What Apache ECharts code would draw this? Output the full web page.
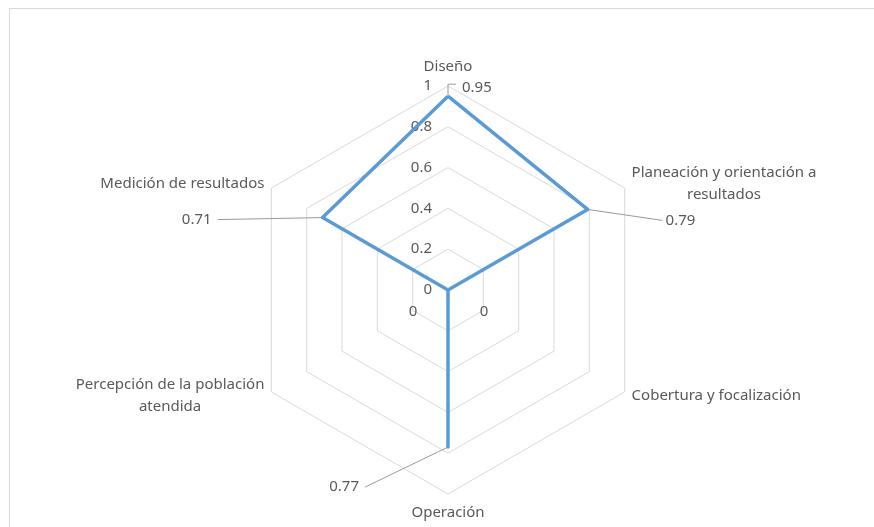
<!DOCTYPE html>
<html>
<head>
<meta charset="utf-8">
<script src="https://cdn.jsdelivr.net/npm/echarts@6/dist/echarts.min.js"></script>
<style>
    html, body { margin: 0; padding: 0; background: #fff; }
    #frame { position: absolute; left: 9px; top: 8px; width: 900px; height: 560px;
             border-left: 1px solid #d9d9d9; border-top: 1px solid #d9d9d9; }
    #chart { position: absolute; left: 0; top: 0; width: 874px; height: 527px; }
</style>
</head>
<body>
<div id="frame"></div>
<div id="chart"></div>
<script>
// categories in clockwise order, starting at the top
var categories = [
    'Diseño',
    'Planeación y orientación a\nresultados',
    'Cobertura y focalización',
    'Operación',
    'Percepción de la población\natendida',
    'Medición de resultados'
];
var values = [0.95, 0.79, 0, 0.77, 0, 0.71];
var tickLabels = ['0', '0.2', '0.4', '0.6', '0.8', '1'];

var FONT = '"Noto Sans", sans-serif';
var FS = 15;
var TEXT = '#595959';
var BLUE = '#5b9bd5';

// where each data label sits relative to its point (leader line + text)
var labelPlace = [
    { line: [[0, 0], [0, -12], [8, -12]], text: [14, -8], align: 'left' },
    { line: [[0, 0], [75, 11]], text: [78, 11], align: 'left' },
    { text: [36, 22], align: 'center' },
    { line: [[0, 0], [-83, 40]], text: [-89, 40], align: 'right' },
    { text: [-35, 22], align: 'center' },
    { line: [[0, 0], [-105, 2]], text: [-111, 2], align: 'right' }
];

// echarts radar runs counter-clockwise, so walk the list backwards after the first
var order = [0, 5, 4, 3, 2, 1];

var chart = echarts.init(document.getElementById('chart'));

var indicators = order.map(function(i, k) {
    var ind = { name: categories[i], min: 0, max: 1 };
    if (k === 0) {
        ind.axisLabel = {
            show: true,
            color: TEXT,
            fontSize: FS,
            fontFamily: FONT,
            margin: 16,
            formatter: function(v, idx) { return tickLabels[idx]; }
        };
    }
    return ind;
});

var option = {
    animation: false,
    radar: {
        center: [448, 290],
        radius: 204,
        startAngle: 90,
        splitNumber: 5,
        shape: 'polygon',
        nameGap: 8,
        indicator: indicators,
        axisName: {
            color: TEXT,
            fontSize: FS,
            fontFamily: FONT,
            formatter: function(name) {
                return name.split('\n').map(function(s) { return '{c|' + s + '}'; }).join('\n');
            },
            rich: {
                c: { align: 'center', color: TEXT, fontSize: FS, fontFamily: FONT, lineHeight: 22 }
            }
        },
        axisLine: { show: false },
        axisTick: { show: false },
        axisLabel: { show: false },
        splitLine: { lineStyle: { color: '#d9d9d9', width: 1 } },
        splitArea: { show: false }
    },
    series: [{
        type: 'radar',
        symbol: 'none',
        lineStyle: { color: BLUE, width: 3.5 },
        data: [{ value: order.map(function(i) { return values[i]; }) }]
    }]
};
chart.setOption(option);

// data labels with leader lines, placed from the radar's own coordinate system
var radar = chart.getModel().getComponent('radar').coordinateSystem;
var graphics = [];
order.forEach(function(i, k) {
    var p = radar.dataToPoint(values[i], k);
    var place = labelPlace[i];
    if (place.line) {
        graphics.push({
            type: 'polyline',
            silent: true,
            shape: { points: place.line.map(function(d) { return [p[0] + d[0], p[1] + d[1]]; }) },
            style: { stroke: '#999999', lineWidth: 1, fill: null }
        });
    }
    graphics.push({
        type: 'text',
        silent: true,
        x: p[0] + place.text[0],
        y: p[1] + place.text[1],
        style: {
            text: String(values[i]),
            fill: TEXT,
            font: FS + 'px ' + FONT,
            align: place.align,
            verticalAlign: 'middle'
        }
    });
});
chart.setOption({ graphic: graphics });
</script>
</body>
</html>
